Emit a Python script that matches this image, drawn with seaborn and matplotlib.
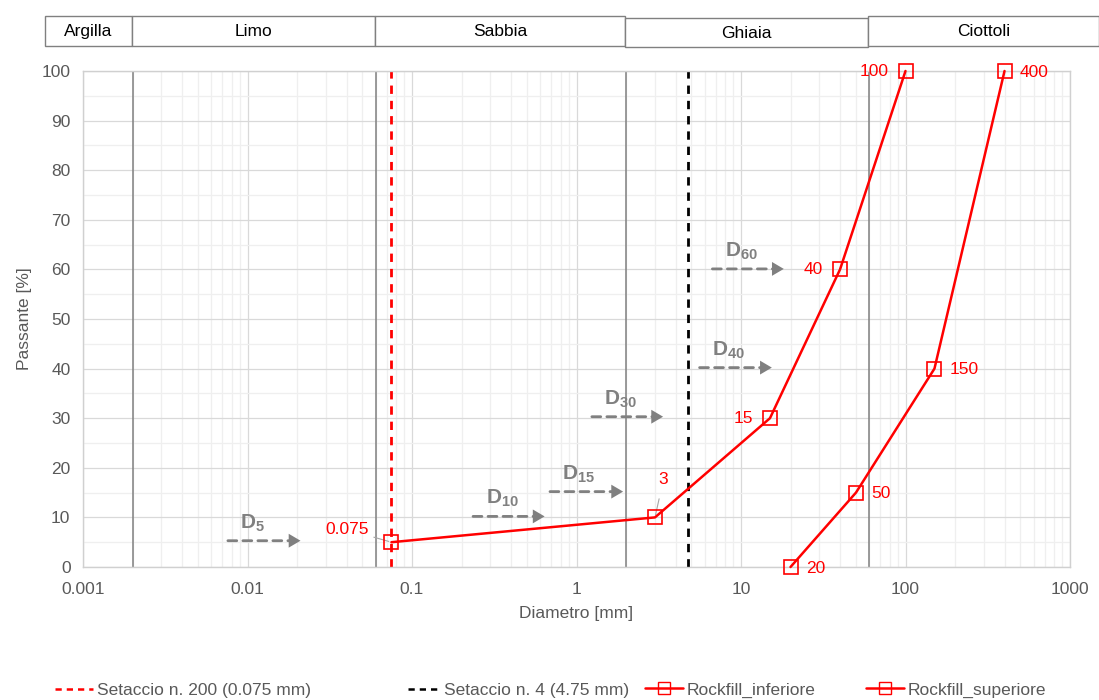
import numpy as np
import pandas as pd
import matplotlib
matplotlib.use("Agg")
import matplotlib.pyplot as plt
from matplotlib.patches import Rectangle
from matplotlib.lines import Line2D
from matplotlib.ticker import LogLocator, MultipleLocator, FixedLocator
import seaborn as sns

# ---- data ----
inf_d = [0.075, 3, 15, 40, 100]
inf_p = [5, 10, 30, 60, 100]
inf_lbl = ["0.075", "3", "15", "40", "100"]
sup_d = [20, 50, 150, 400]
sup_p = [0, 15, 40, 100]
sup_lbl = ["20", "50", "150", "400"]
sieve200 = 0.075
sieve4 = 4.75
class_bounds = [0.002, 0.06, 2, 60]
class_names = ["Argilla", "Limo", "Sabbia", "Ghiaia", "Ciottoli"]
x_ticks = [0.001, 0.01, 0.1, 1, 10, 100, 1000]
x_ticklabels = ["0.001", "0.01", "0.1", "1", "10", "100", "1000"]
d_names = ["5", "10", "15", "30", "40", "60"]
d_y = [5.3, 10.2, 15.2, 30.3, 40.2, 60.1]
d_x0 = [0.0076, 0.235, 0.69, 1.24, 5.6, 6.7]
d_x1 = [0.021, 0.64, 1.92, 3.36, 15.4, 18.2]

sns.set_theme(style="white")
plt.rcParams['font.family'] = ['Liberation Sans', 'DejaVu Sans']
plt.rcParams['mathtext.fontset'] = 'custom'
plt.rcParams['mathtext.rm'] = 'Liberation Sans'
plt.rcParams['mathtext.bf'] = 'Liberation Sans:bold'
plt.rcParams['mathtext.it'] = 'Liberation Sans:italic'

W, H = 1099, 700
fs = 12.5
fig = plt.figure(figsize=(W / 100, H / 100), dpi=100)
ax = fig.add_axes([83 / W, 1 - 567 / H, (1070 - 83) / W, (567 - 71) / H])

ax.set_xscale("log")
ax.set_xlim(0.001, 1000)
ax.set_ylim(0, 100)
ax.xaxis.set_major_locator(FixedLocator(x_ticks))
ax.set_xticklabels(x_ticklabels)
ax.xaxis.set_minor_locator(LogLocator(base=10, subs=np.arange(2, 10), numticks=100))
ax.xaxis.set_minor_formatter(matplotlib.ticker.NullFormatter())
ax.yaxis.set_major_locator(MultipleLocator(10))
ax.yaxis.set_minor_locator(MultipleLocator(5))
ax.grid(which="major", color="#d9d9d9", lw=0.9)
ax.grid(which="minor", color="#efefef", lw=0.9)
ax.set_axisbelow(True)
for s in ax.spines.values():
    s.set_color("#d0d0d0")
    s.set_linewidth(1.0)
ax.tick_params(axis="x", which="both", length=0, colors="#595959", labelsize=fs, pad=11)
ax.tick_params(axis="y", which="both", length=0, colors="#595959", labelsize=fs, pad=9)

# class boundaries
for b in class_bounds:
    ax.axvline(b, color="#7f7f7f", lw=1.1, zorder=1)

# sieves
ax.axvline(sieve200, color="#ff0000", lw=2, ls=(0, (3, 2.5)), zorder=2)
ax.axvline(sieve4, color="#000000", lw=2, ls=(0, (3, 2.5)), zorder=2)

df_inf = pd.DataFrame({"d": inf_d, "p": inf_p})
df_sup = pd.DataFrame({"d": sup_d, "p": sup_p})
for df in (df_inf, df_sup):
    sns.lineplot(data=df, x="d", y="p", ax=ax, color="#ff0000", lw=1.8, sort=False,
                 marker="s", markersize=9.5, markerfacecolor="none", markeredgecolor="#ff0000",
                 markeredgewidth=1.2, zorder=4, clip_on=False)
ax.set_xlabel("Diametro [mm]", color="#595959", fontsize=fs, labelpad=6)
ax.set_ylabel("Passante [%]", color="#595959", fontsize=fs, labelpad=7)

red = "#ff0000"
# labels inferiore
ax.annotate(inf_lbl[0], xy=(inf_d[0], inf_p[0]), xytext=(-16, 9), textcoords="offset points",
            color=red, fontsize=fs, ha="right", va="center",
            arrowprops=dict(arrowstyle="-", color="#a6a6a6", lw=0.8, shrinkA=1, shrinkB=2))
ax.annotate(inf_lbl[1], xy=(inf_d[1], inf_p[1]), xytext=(6, 27), textcoords="offset points",
            color=red, fontsize=fs, ha="center", va="center",
            arrowprops=dict(arrowstyle="-", color="#a6a6a6", lw=0.8, shrinkA=6, shrinkB=2))
for i in [2, 3, 4]:
    ax.annotate(inf_lbl[i], xy=(inf_d[i], inf_p[i]), xytext=(-12, 0), textcoords="offset points",
                color=red, fontsize=fs, ha="right", va="center")
for i in range(4):
    ax.annotate(sup_lbl[i], xy=(sup_d[i], sup_p[i]), xytext=(11, -1), textcoords="offset points",
                color=red, fontsize=fs, ha="left", va="center", annotation_clip=False)

# D arrows
gray = "#808080"
for nm, y, x0, x1 in zip(d_names, d_y, d_x0, d_x1):
    ax.annotate("", xy=(x1, y), xytext=(x0, y),
                arrowprops=dict(arrowstyle="-", color=gray, lw=2.0, ls=(0, (3.2, 2.2)),
                                shrinkA=0, shrinkB=7), zorder=3)
    ax.annotate("", xy=(x1, y), xytext=(-10, 0), textcoords="offset points",
                arrowprops=dict(arrowstyle="-|>,head_length=0.85,head_width=0.5", color=gray,
                                lw=0, mutation_scale=10, shrinkA=0, shrinkB=0), zorder=3)
    ax.annotate(r"$\mathbf{D}_{\mathbf{" + nm + "}}$", xy=(x0, y), xytext=(9, 5),
                textcoords="offset points", color=gray, fontsize=15, ha="left", va="bottom")

# header boxes
edges = [45, 132, 375, 625, 868, 1099]
tops = [16, 16, 16, 18, 16]
bots = [46, 46, 46, 47, 46]
for i, nm in enumerate(class_names):
    x0p, x1p = edges[i], edges[i + 1]
    r = Rectangle((x0p / W, 1 - bots[i] / H), (x1p - x0p) / W, (bots[i] - tops[i]) / H,
                  transform=fig.transFigure, fill=True, facecolor="white",
                  edgecolor="#808080", lw=1.0)
    fig.patches.append(r)
    fig.text((x0p + x1p) / 2 / W, 1 - (tops[i] + bots[i]) / 2 / H - 0.001, nm, ha="center",
             va="center", fontsize=fs, color="#000000")

# legend (one entry per slot)
handles = [
    Line2D([], [], color=red, lw=1.8, ls=(0, (2.5, 2))),
    Line2D([], [], color="black", lw=1.8, ls=(0, (2.5, 2))),
    Line2D([], [], color=red, lw=1.8, marker="s", markersize=8, markerfacecolor="none"),
    Line2D([], [], color=red, lw=1.8, marker="s", markersize=8, markerfacecolor="none"),
]
labels = ["Setaccio n. 200 (0.075 mm)", "Setaccio n. 4 (4.75 mm)", "Rockfill_inferiore", "Rockfill_superiore"]
slots = [55, 408, 645, 866]
hlen = [2.2, 1.9, 2.2, 2.2]
for h, l, sx, hl in zip(handles, labels, slots, hlen):
    fig.legend([h], [l], loc="center left", bbox_to_anchor=(sx / W, 1 - 690 / H),
               frameon=False, fontsize=fs, handlelength=hl, handletextpad=0.2,
               borderpad=0, borderaxespad=0, labelcolor="#595959")

fig.savefig("out.png", dpi=100)
